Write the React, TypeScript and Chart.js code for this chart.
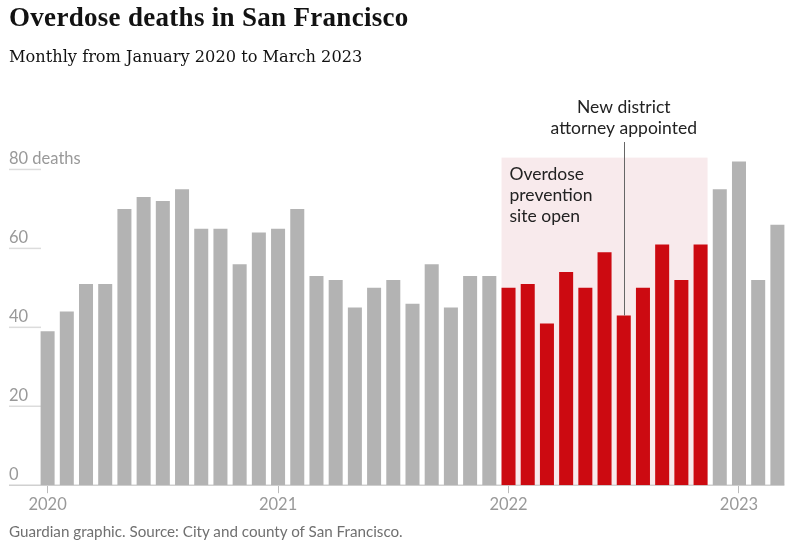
import React, { useEffect, useRef } from "react";
import { Chart, registerables } from "chart.js";

Chart.register(...registerables);

const months: string[] = [
  "Jan 2020", "Feb 2020", "Mar 2020", "Apr 2020", "May 2020", "Jun 2020",
  "Jul 2020", "Aug 2020", "Sep 2020", "Oct 2020", "Nov 2020", "Dec 2020",
  "Jan 2021", "Feb 2021", "Mar 2021", "Apr 2021", "May 2021", "Jun 2021",
  "Jul 2021", "Aug 2021", "Sep 2021", "Oct 2021", "Nov 2021", "Dec 2021",
  "Jan 2022", "Feb 2022", "Mar 2022", "Apr 2022", "May 2022", "Jun 2022",
  "Jul 2022", "Aug 2022", "Sep 2022", "Oct 2022", "Nov 2022", "Dec 2022",
  "Jan 2023", "Feb 2023", "Mar 2023",
];

const deaths: number[] = [
  39, 44, 51, 51, 70, 73, 72, 75, 65, 65, 56, 64,
  65, 70, 53, 52, 45, 50, 52, 46, 56, 45, 53, 53,
  50, 51, 41, 54, 50, 59, 43, 50, 61, 52, 61, 75,
  82, 52, 66,
];

const yTicks: number[] = [0, 20, 40, 60, 80];
const yTickLabels: string[] = ["0", "20", "40", "60", "80 deaths"];
const yearTickMonths: string[] = ["Jan 2020", "Jan 2021", "Jan 2022", "Jan 2023"];
const yearTickLabels: string[] = ["2020", "2021", "2022", "2023"];

const siteOpenStart = "Jan 2022";
const siteOpenEnd = "Nov 2022";
const siteBoxTop = 83;
const daMonth = "Jul 2022";

const siteLabel: string[] = ["Overdose", "prevention", "site open"];
const daLabel: string[] = ["New district", "attorney appointed"];

const GREY = "#b3b3b3";
const RED = "#cc0a11";
const PINK = "#f8eaec";
const SANS = "Lato, 'Noto Sans', sans-serif";

export default function App() {
  const ref = useRef<HTMLCanvasElement | null>(null);

  useEffect(() => {
    const canvas = ref.current;
    if (!canvas) return;
    const iStart = months.indexOf(siteOpenStart);
    const iEnd = months.indexOf(siteOpenEnd);
    const iDa = months.indexOf(daMonth);

    const overlay = {
      id: "overlay",
      beforeDatasetsDraw(chart: any) {
        const ctx = chart.ctx;
        const meta = chart.getDatasetMeta(0);
        const y = chart.scales.y;
        const a = meta.data[iStart];
        const b = meta.data[iEnd];
        const left = a.x - a.width / 2;
        const right = b.x + b.width / 2;
        const top = y.getPixelForValue(siteBoxTop);
        const bottom = y.getPixelForValue(0);
        ctx.save();
        ctx.fillStyle = PINK;
        ctx.fillRect(left, top, right - left, bottom - top);
        // y grid stubs and labels
        ctx.strokeStyle = "#dcdcdc";
        ctx.lineWidth = 1.5;
        ctx.fillStyle = "#999999";
        ctx.font = `16.5px ${SANS}`;
        ctx.textAlign = "left";
        ctx.textBaseline = "alphabetic";
        yTicks.forEach((v, i) => {
          const py = y.getPixelForValue(v);
          if (v !== 0) {
            ctx.beginPath();
            ctx.moveTo(9, py);
            ctx.lineTo(41, py);
            ctx.stroke();
          }
          ctx.fillText(yTickLabels[i], 9, py - 5);
        });
        // baseline
        const last = meta.data[meta.data.length - 1];
        ctx.strokeStyle = "#d0d0d0";
        ctx.lineWidth = 1.5;
        ctx.beginPath();
        ctx.moveTo(9, bottom);
        ctx.lineTo(last.x + last.width / 2, bottom);
        ctx.stroke();
        // site label
        ctx.fillStyle = "#222222";
        ctx.font = `17.5px ${SANS}`;
        siteLabel.forEach((t, i) => {
          ctx.fillText(t, left + 8, top + 22 + i * 21);
        });
        ctx.restore();
      },
      afterDatasetsDraw(chart: any) {
        const ctx = chart.ctx;
        const meta = chart.getDatasetMeta(0);
        const el = meta.data[iDa];
        const x = Math.round(el.x) + 0.5;
        ctx.save();
        ctx.strokeStyle = "#666666";
        ctx.lineWidth = 1;
        ctx.beginPath();
        ctx.moveTo(x, 142);
        ctx.lineTo(x, el.y);
        ctx.stroke();
        ctx.fillStyle = "#222222";
        ctx.font = `17.5px ${SANS}`;
        ctx.textAlign = "center";
        daLabel.forEach((t, i) => {
          ctx.fillText(t, el.x, 113 + i * 21);
        });
        ctx.restore();
      },
    };

    const chart = new Chart(canvas, {
      type: "bar",
      data: {
        labels: months,
        datasets: [
          {
            data: deaths,
            backgroundColor: months.map((_, i) => (i >= iStart && i <= iEnd ? RED : GREY)),
            barPercentage: 0.73,
            categoryPercentage: 1,
            borderWidth: 0,
          },
        ],
      },
      options: {
        animation: false,
        responsive: false,
        maintainAspectRatio: false,
        layout: { padding: { left: 38, right: 12, top: 130, bottom: 30 } },
        plugins: { legend: { display: false }, tooltip: { enabled: false }, title: { display: false } },
        scales: {
          y: { display: false, min: 0, max: 90 },
          x: {
            offset: true,
            border: { display: false },
            grid: {
              offset: false,
              drawOnChartArea: false,
              drawTicks: true,
              tickLength: 8,
              lineWidth: 1,
              color: (ctx: any) =>
                yearTickMonths.includes(months[ctx.index]) ? "#bbbbbb" : "rgba(0,0,0,0)",
            },
            ticks: {
              autoSkip: false,
              maxRotation: 0,
              padding: 2,
              color: "#999999",
              font: { family: SANS, size: 16.5 },
              callback: (_v: any, i: number) => {
                const k = yearTickMonths.indexOf(months[i]);
                return k >= 0 ? yearTickLabels[k] : "";
              },
            },
          },
        },
      },
      plugins: [overlay],
    });
    return () => chart.destroy();
  }, []);

  return (
    <div style={{ position: "absolute", left: 0, top: 0, width: 799, height: 547, background: "#fff", overflow: "hidden" }}>
      <canvas ref={ref} width={799} height={547} style={{ position: "absolute", left: 0, top: 0 }} />
      <div style={{ position: "absolute", left: 9, top: 2, fontFamily: "'Liberation Serif', serif", fontWeight: 700, fontSize: 27, letterSpacing: 0.3, color: "#121212", whiteSpace: "nowrap" }}>
        Overdose deaths in San Francisco
      </div>
      <div style={{ position: "absolute", left: 9, top: 47, fontFamily: "'DejaVu Serif', serif", fontSize: 16.2, color: "#121212", whiteSpace: "nowrap" }}>
        Monthly from January 2020 to March 2023
      </div>
      <div style={{ position: "absolute", left: 9, top: 522, fontFamily: SANS, fontSize: 15.2, color: "#707070", whiteSpace: "nowrap" }}>
        Guardian graphic. Source: City and county of San Francisco.
      </div>
    </div>
  );
}
